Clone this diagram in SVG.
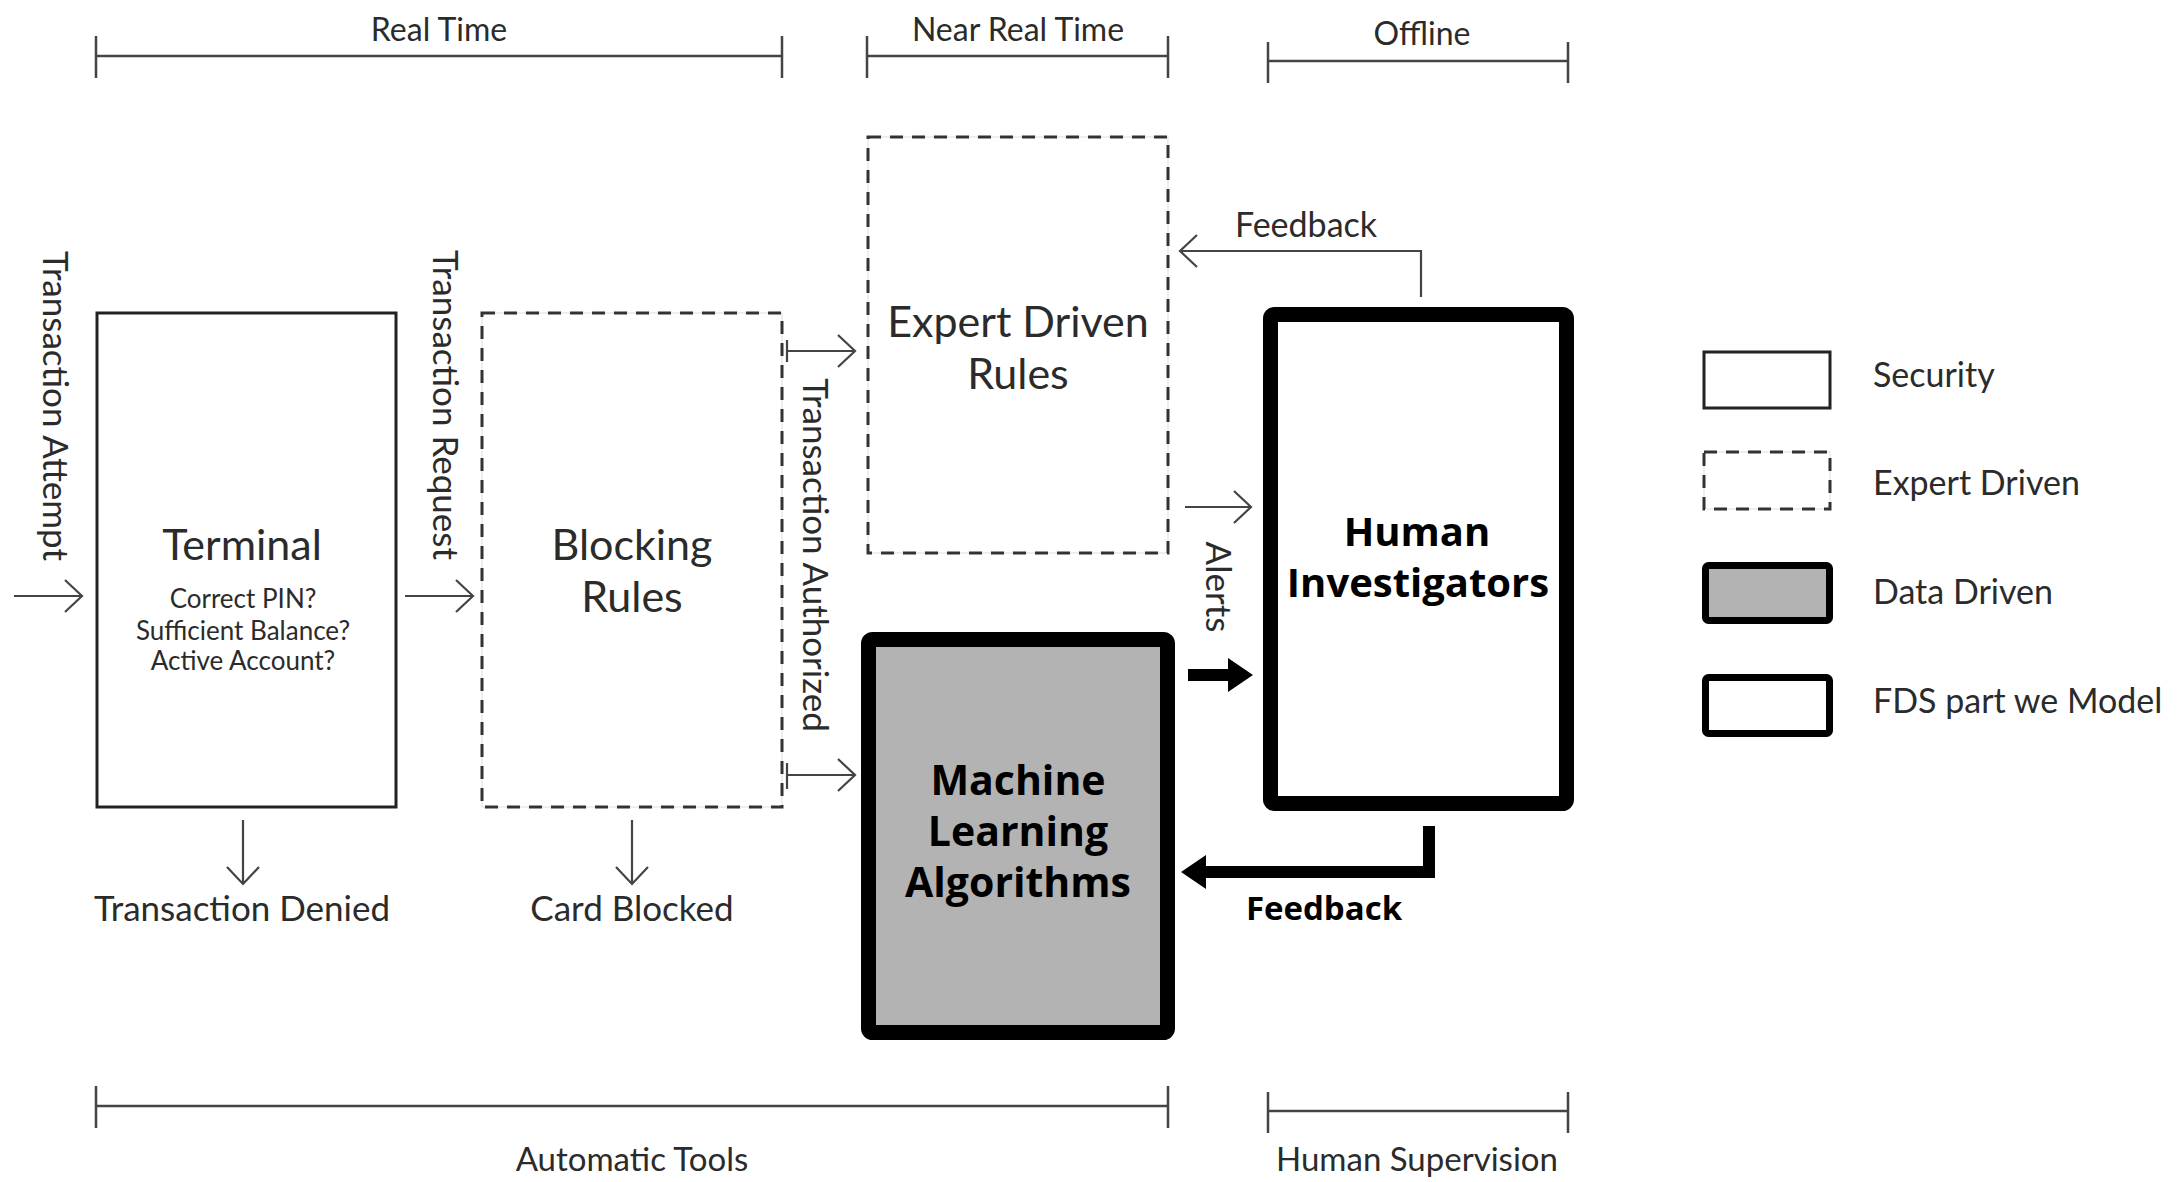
<svg xmlns="http://www.w3.org/2000/svg" width="2178" height="1182" viewBox="0 0 2178 1182">
<style>
.t{font-family:Lato,"Liberation Sans",sans-serif;fill:#2b2b2b}
.b{font-family:"Open Sans","Liberation Sans",sans-serif;font-weight:700;fill:#000}
.br{stroke:#444;stroke-width:2.5;fill:none}
.ln{stroke:#444;stroke-width:2.2;fill:none}
.solid{fill:#fff;stroke:#222;stroke-width:3}
.dash{fill:none;stroke:#333;stroke-width:3;stroke-dasharray:13 9}
.ghost{fill:#fff;stroke:#ddd;stroke-width:1}
.thick{fill:#fff;stroke:#000;stroke-width:15}
.thickg{fill:#b3b3b3;stroke:#000;stroke-width:15}
.fat{stroke:#000;stroke-width:12;fill:none}
</style>
<rect width="2178" height="1182" fill="#fff"/>

<g id="brackets">
<path class="br" d="M96 56H782M96 36V78M782 36V78"/>
<path class="br" d="M867 56H1168M867 36V78M1168 36V78"/>
<path class="br" d="M1268 61H1568M1268 42V83M1568 42V83"/>
<path class="br" d="M96 1106H1168M96 1086V1128M1168 1086V1128"/>
<path class="br" d="M1268 1111H1568M1268 1092V1133M1568 1092V1133"/>
<text class="t" x="439" y="41" font-size="32" text-anchor="middle">Real Time</text>
<text class="t" x="1018" y="41" font-size="32" text-anchor="middle">Near Real Time</text>
<text class="t" x="1422" y="45" font-size="32" text-anchor="middle">Offline</text>
<text class="t" x="632" y="1171" font-size="33" text-anchor="middle">Automatic Tools</text>
<text class="t" x="1417" y="1171" font-size="33" text-anchor="middle">Human Supervision</text>
</g>

<g id="terminal">
<rect class="solid" x="97" y="313" width="299" height="494"/>
<text class="t" x="242" y="560" font-size="43" text-anchor="middle">Terminal</text>
<text class="t" x="243" y="608" font-size="26" text-anchor="middle">Correct PIN?</text>
<text class="t" x="243" y="640" font-size="26" text-anchor="middle">Sufficient Balance?</text>
<text class="t" x="243" y="670" font-size="26" text-anchor="middle">Active Account?</text>
</g>

<g id="blocking-rules">
<rect class="ghost" x="482" y="313" width="300" height="494"/>
<rect class="dash" x="482" y="313" width="300" height="494"/>
<text class="t" x="632" y="560" font-size="43" text-anchor="middle">Blocking</text>
<text class="t" x="632" y="612" font-size="43" text-anchor="middle">Rules</text>
</g>

<g id="expert-driven-rules">
<rect class="ghost" x="868" y="137" width="300" height="416"/>
<rect class="dash" x="868" y="137" width="300" height="416"/>
<text class="t" x="1018" y="337" font-size="43" text-anchor="middle">Expert Driven</text>
<text class="t" x="1018" y="389" font-size="43" text-anchor="middle">Rules</text>
</g>

<g id="machine-learning">
<rect class="thickg" x="868.5" y="639.5" width="299" height="393" rx="4"/>
<text class="b" x="1018" y="795" font-size="41" text-anchor="middle">Machine</text>
<text class="b" x="1018" y="846" font-size="41" text-anchor="middle">Learning</text>
<text class="b" x="1018" y="897" font-size="41" text-anchor="middle">Algorithms</text>
</g>

<g id="human-investigators">
<rect class="thick" x="1270.5" y="314.5" width="296" height="489" rx="4"/>
<text class="b" x="1417" y="546" font-size="40" text-anchor="middle">Human</text>
<text class="b" x="1418" y="597" font-size="40" text-anchor="middle">Investigators</text>
</g>

<g id="connectors">
<path class="ln" d="M14 596H82M65 580L82 596L65 612"/>
<path class="ln" d="M405 596H473M456 580L473 596L456 612"/>
<path class="ln" d="M787 340V362M787 351H855M838 335L855 351L838 367"/>
<path class="ln" d="M787 763V789M787 775H855M838 759L855 775L838 791"/>
<path class="ln" d="M1185 507H1251M1234 491L1251 507L1234 523"/>
<path class="ln" d="M1421 297V251H1180M1197 235L1180 251L1197 267"/>
<path class="ln" d="M243 820V884M227 867L243 884L259 867"/>
<path class="ln" d="M632 820V884M616 867L632 884L648 867"/>
<path class="fat" d="M1188 675H1232"/>
<path d="M1253 675L1228 658V692Z" fill="#000"/>
<path class="fat" d="M1429 826V872H1205" stroke-linejoin="miter"/>
<path d="M1181 872L1206 855V889Z" fill="#000"/>
<text class="t" x="1306" y="237" font-size="34" text-anchor="middle">Feedback</text>
<text class="b" x="1324" y="920" font-size="33" text-anchor="middle">Feedback</text>
<text class="t" font-size="35" text-anchor="middle" transform="translate(55 406) rotate(90)" y="12">Transaction Attempt</text>
<text class="t" font-size="35" text-anchor="middle" transform="translate(445 405) rotate(90)" y="12">Transaction Request</text>
<text class="t" font-size="35" text-anchor="middle" transform="translate(815 555) rotate(90)" y="12">Transaction Authorized</text>
<text class="t" font-size="35" text-anchor="middle" transform="translate(1218 587) rotate(90)" y="12">Alerts</text>
<text class="t" x="242" y="921" font-size="35" text-anchor="middle">Transaction Denied</text>
<text class="t" x="632" y="921" font-size="35" text-anchor="middle">Card Blocked</text>
</g>

<g id="legend">
<rect class="solid" x="1704" y="352" width="126" height="56"/>
<rect class="ghost" x="1704" y="452" width="126" height="57"/>
<rect class="dash" x="1704" y="452" width="126" height="57"/>
<rect x="1705.5" y="565.5" width="124" height="55" rx="3" fill="#b3b3b3" stroke="#000" stroke-width="7"/>
<rect x="1705.5" y="677.5" width="124" height="56" rx="3" fill="#fff" stroke="#000" stroke-width="7"/>
<text class="t" x="1873" y="387" font-size="34">Security</text>
<text class="t" x="1873" y="495" font-size="34">Expert Driven</text>
<text class="t" x="1873" y="604" font-size="34">Data Driven</text>
<text class="t" x="1873" y="713" font-size="34">FDS part we Model</text>
</g>
</svg>
